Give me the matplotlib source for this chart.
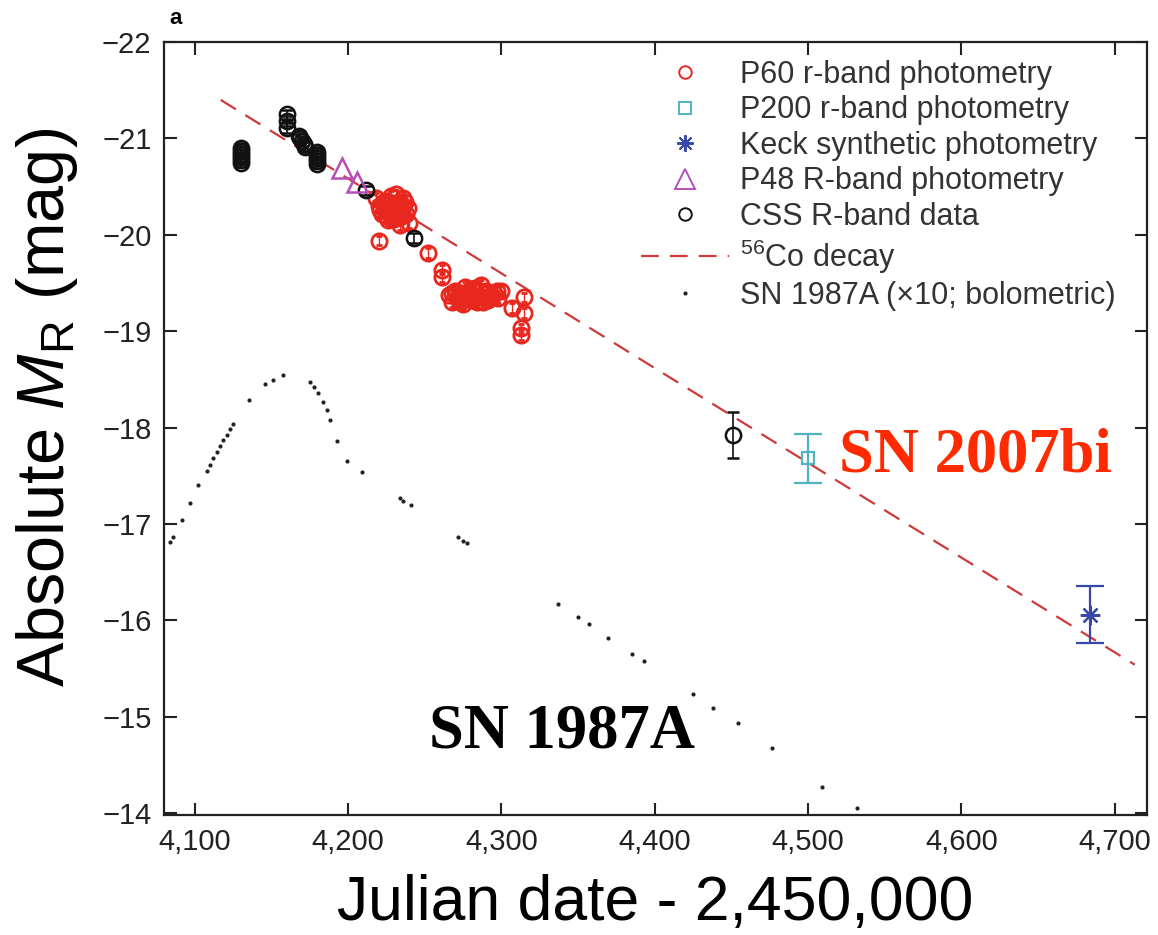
import matplotlib
matplotlib.use('Agg')
import matplotlib.pyplot as plt
from matplotlib.lines import Line2D
from matplotlib.ticker import FuncFormatter
import numpy as np

plt.rcParams['font.family'] = ['Liberation Sans', 'DejaVu Sans']
plt.rcParams['mathtext.fontset'] = 'custom'
plt.rcParams['mathtext.rm'] = 'Liberation Sans'
plt.rcParams['mathtext.it'] = 'Liberation Sans:italic'

# SN 2007bi, P60 r-band (red circles)
p60_x = [4218, 4220, 4222, 4224, 4226, 4228, 4230, 4232, 4234, 4236, 4238, 4240,
         4226, 4231, 4236, 4234, 4221, 4223, 4227, 4229, 4233, 4235, 4237, 4239,
         4225, 4230, 4228, 4233,
         4220,
         4252, 4261, 4261,
         4266, 4268, 4270, 4272, 4275, 4278, 4280, 4283, 4285, 4288, 4290, 4292,
         4295, 4298, 4300, 4276, 4287, 4268, 4271, 4274, 4277, 4279, 4282, 4284,
         4286, 4289, 4291, 4294, 4297, 4273, 4281,
         4307, 4315, 4315, 4313, 4313]
p60_y = [-20.38, -20.30, -20.22, -20.35, -20.28, -20.40, -20.32, -20.25, -20.18, -20.30, -20.22, -20.12,
         -20.15, -20.42, -20.38, -20.10, -20.26, -20.32, -20.34, -20.24, -20.34, -20.24, -20.34, -20.28,
         -20.20, -20.16, -20.20, -20.20,
         -19.94,
         -19.81, -19.64, -19.56,
         -19.38, -19.30, -19.42, -19.35, -19.28, -19.38, -19.32, -19.45, -19.36, -19.30, -19.42, -19.36,
         -19.40, -19.34, -19.42, -19.46, -19.48, -19.40, -19.34, -19.40, -19.34, -19.42, -19.36, -19.30,
         -19.42, -19.36, -19.32, -19.36, -19.42, -19.30, -19.44,
         -19.24, -19.35, -19.19, -19.03, -18.96]

# CSS R-band (black circles)
css_x = [4130, 4130, 4130, 4130, 4130, 4130,
         4160, 4160, 4160,
         4168, 4169, 4170, 4171, 4172,
         4180, 4180, 4180, 4180, 4180,
         4212, 4243, 4451]
css_y = [-20.90, -20.87, -20.84, -20.81, -20.78, -20.75,
         -21.25, -21.18, -21.11,
         -21.03, -21.00, -20.97, -20.94, -20.91,
         -20.86, -20.83, -20.80, -20.77, -20.74,
         -20.46, -19.97, -17.92]
css_err = [0.05] * 21 + [0.24]

# P48 R-band (magenta triangles)
p48_x = [4196, 4206]
p48_y = [-20.69, -20.55]

# P200 r-band (cyan square)
p200_x = [4500]
p200_y = [-17.68]
p200_err = [0.25]

# Keck synthetic photometry (blue asterisk)
keck_x = [4684]
keck_y = [-16.06]
keck_err = [0.30]

# 56Co decay line
co_x = [4117, 4713]
co_y = [-21.40, -15.54]

# SN 1987A (x10; bolometric)
sn87_x = [4083.7, 4085.7, 4091.5, 4096.7, 4102.0, 4107.8, 4109.8, 4111.7, 4114.3, 4116.3,
          4118.3, 4120.9, 4122.8, 4124.8, 4135.2, 4145.7, 4150.9, 4157.4, 4175.0, 4177.6,
          4180.2, 4183.5, 4186.1, 4188.0, 4192.6, 4199.1, 4208.9, 4233.7, 4235.7, 4240.9,
          4271.5, 4274.8, 4277.4, 4336.7, 4349.8, 4357.0, 4369.4, 4385.0, 4392.8, 4424.8,
          4437.8, 4454.1, 4476.3, 4508.9, 4531.7]
sn87_y = [-16.81, -16.87, -17.04, -17.22, -17.40, -17.55, -17.61, -17.68, -17.75, -17.81,
          -17.87, -17.92, -17.99, -18.04, -18.29, -18.45, -18.49, -18.55, -18.47, -18.42,
          -18.36, -18.27, -18.18, -18.08, -17.86, -17.65, -17.54, -17.27, -17.24, -17.20,
          -16.87, -16.82, -16.80, -16.17, -16.03, -15.96, -15.82, -15.65, -15.58, -15.24,
          -15.09, -14.93, -14.68, -14.27, -14.05]

x_ticks = [4100, 4200, 4300, 4400, 4500, 4600, 4700]
y_ticks = [-22, -21, -20, -19, -18, -17, -16, -15, -14]

RED = '#e8281e'
CYAN = '#4fb3c2'
BLUE = '#3848a8'
MAGENTA = '#b54fb8'
CO_RED = '#cc3a3a'

fig = plt.figure(figsize=(11.58, 9.35), dpi=100)
ax = fig.add_axes([0.1416, 0.1283, 0.8489, 0.8267])

ax.plot(co_x, co_y, color=CO_RED, lw=1.6, dashes=(8, 5), zorder=1)

ax.plot(sn87_x, sn87_y, 'o', color='#222222', ms=3, mec='none', zorder=2)

ax.errorbar(p60_x, p60_y, yerr=0.05, fmt='o', mfc='none', mec=RED, ecolor=RED,
            ms=11, mew=2.0, elinewidth=1, capsize=2.5, zorder=3)
ax.errorbar(css_x, css_y, yerr=css_err, fmt='o', mfc='none', mec='#111111', ecolor='#111111',
            ms=11, mew=1.8, elinewidth=1.2, capsize=4, zorder=4)
ax.plot(p48_x, p48_y, '^', mfc='none', mec=MAGENTA, ms=15, mew=1.8, zorder=5)
ax.errorbar(p200_x, p200_y, yerr=p200_err, fmt='s', mfc='none', mec=CYAN, ecolor=CYAN,
            ms=8, mew=1.6, elinewidth=1.6, capsize=10, capthick=1.6, zorder=5)
ax.errorbar(keck_x, keck_y, yerr=keck_err, fmt='none', ecolor=BLUE,
            elinewidth=1.6, capsize=10, capthick=1.6, zorder=5)
ax.plot(keck_x, keck_y, marker=(8, 2, 0), color=BLUE, ms=14, mew=1.6, ls='none', zorder=6)

ax.set_xlim(4080, 4721)
ax.set_ylim(-13.98, -22)
ax.set_xticks(x_ticks)
ax.set_yticks(y_ticks)
ax.xaxis.set_major_formatter(FuncFormatter(lambda v, p: '{:,.0f}'.format(v)))
ax.tick_params(direction='in', top=True, right=True, length=9, width=1.5,
               labelsize=21, pad=9, colors='#222222')
for s in ax.spines.values():
    s.set_linewidth(1.6)
    s.set_color('#222222')

ax.set_xlabel('Julian date - 2,450,000', fontsize=45, labelpad=13)
ax.set_ylabel(r'Absolute $M_{\mathrm{R}}$ (mag)', fontsize=48, labelpad=8)
ax.yaxis.set_label_coords(-0.085, 0.527)

ax.text(4520, -17.54, 'SN 2007bi', family='Liberation Serif', fontweight='bold',
        fontsize=45, color='#ff2a00', va='baseline')
ax.text(4253, -14.68, 'SN 1987A', family='Liberation Serif', fontweight='bold',
        fontsize=45, color='black', va='baseline')
fig.text(0.146, 0.974, 'a', fontsize=16, fontweight='bold', va='baseline')

handles = [
    Line2D([], [], ls='none', marker='o', mfc='none', mec=RED, ms=9, mew=1.4),
    Line2D([], [], ls='none', marker='s', mfc='none', mec=CYAN, ms=8, mew=1.4),
    Line2D([], [], ls='none', marker=(8, 2, 0), color=BLUE, ms=12, mew=1.4),
    Line2D([], [], ls='none', marker='^', mfc='none', mec=MAGENTA, ms=15, mew=1.4),
    Line2D([], [], ls='none', marker='o', mfc='none', mec='#111111', ms=9, mew=1.4),
    Line2D([], [], color=CO_RED, lw=1.6, dashes=(8, 5)),
    Line2D([], [], ls='none', marker='o', color='#222222', ms=3, mec='none'),
]
labels = ['P60 r-band photometry', 'P200 r-band photometry', 'Keck synthetic photometry',
          'P48 R-band photometry', 'CSS R-band data', '$^{56}$Co decay',
          'SN 1987A (\u00d710; bolometric)']
ax.legend(handles, labels, loc='upper left', bbox_to_anchor=(0.485, 0.977), frameon=False,
          fontsize=22, labelspacing=0.18, handlelength=2.9, handletextpad=0.35,
          borderpad=0, borderaxespad=0, labelcolor='#333333')

fig.savefig('out.png', dpi=100)
